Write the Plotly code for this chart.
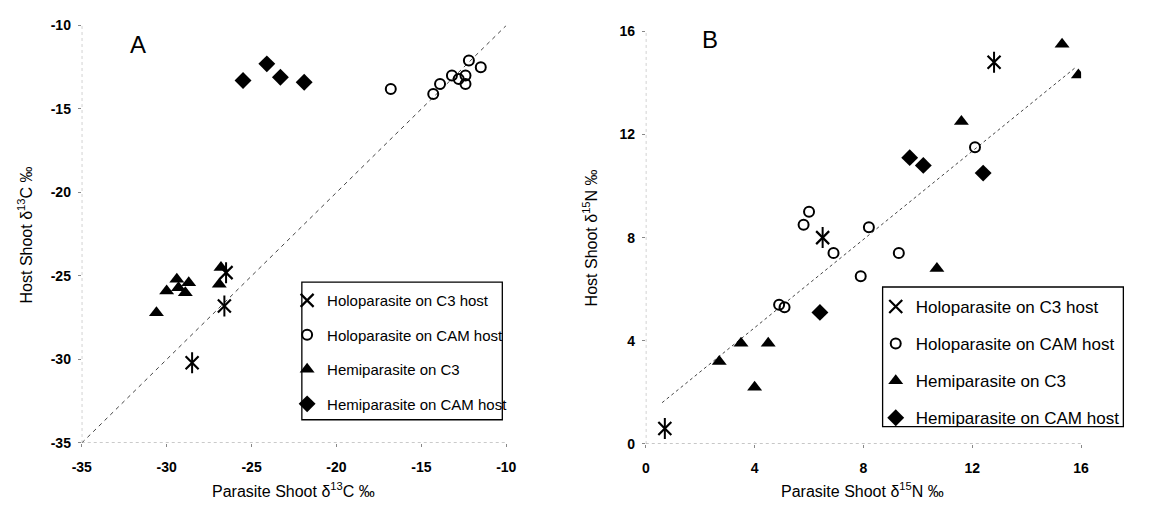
import plotly.graph_objects as go

W, H = 1154, 513

# ---------------- Panel A data (delta 13C) ----------------
a_holo_c3_x = [-26.5, -26.6, -28.5]
a_holo_c3_y = [-24.8, -26.8, -30.2]
a_holo_cam_x = [-16.8, -14.3, -13.9, -13.2, -12.8, -12.4, -12.4, -12.2, -11.5]
a_holo_cam_y = [-13.8, -14.1, -13.5, -13.0, -13.2, -13.0, -13.5, -12.1, -12.5]
a_hemi_c3_x = [-30.6, -30.0, -29.4, -29.3, -28.9, -28.7, -26.8, -26.9]
a_hemi_c3_y = [-27.2, -25.9, -25.2, -25.7, -26.0, -25.4, -24.5, -25.5]
a_hemi_cam_x = [-25.5, -24.1, -23.3, -21.9]
a_hemi_cam_y = [-13.3, -12.3, -13.1, -13.4]
a_line_x = [-35, -10]
a_line_y = [-35, -10]
a_ticks = [-35, -30, -25, -20, -15, -10]

# ---------------- Panel B data (delta 15N) ----------------
b_holo_c3_x = [0.7, 6.5, 12.8]
b_holo_c3_y = [0.6, 8.0, 14.8]
b_holo_cam_x = [5.8, 6.0, 6.9, 4.9, 5.1, 7.9, 8.2, 9.3, 12.1]
b_holo_cam_y = [8.5, 9.0, 7.4, 5.4, 5.3, 6.5, 8.4, 7.4, 11.5]
b_hemi_c3_x = [2.7, 3.5, 4.0, 4.5, 10.7, 11.6, 15.3, 15.9]
b_hemi_c3_y = [3.2, 3.9, 2.2, 3.9, 6.8, 12.5, 15.5, 14.3]
b_hemi_cam_x = [6.4, 9.7, 10.2, 12.4]
b_hemi_cam_y = [5.1, 11.1, 10.8, 10.5]
b_line_x = [0.6, 15.8]
b_line_y = [1.6, 14.6]
b_ticks = [0, 4, 8, 12, 16]

labels = ["Holoparasite on C3 host", "Holoparasite on CAM host",
          "Hemiparasite on C3", "Hemiparasite on CAM host"]

FONT = "Liberation Sans, Arial, sans-serif"

def px(x):
    return x / W

def py(y):
    return 1 - y / H

fig = go.Figure()

def add_panel(xa, ya, leg, line_x, line_y, line_dash, data):
    (hx, hy), (cx, cy), (tx, ty), (dx, dy) = data
    fig.add_trace(go.Scatter(x=line_x, y=line_y, mode="lines",
                             line=dict(color="#444444", width=1, dash=line_dash),
                             showlegend=False, xaxis=xa, yaxis=ya, hoverinfo="skip"))
    # asterisk = X + vertical bar
    fig.add_trace(go.Scatter(x=hx, y=hy, mode="markers", name=labels[0],
                             marker=dict(symbol="x-thin-open", size=13, color="black",
                                         line=dict(width=2.2, color="black")),
                             legend=leg, legendgroup=leg + "0", xaxis=xa, yaxis=ya))
    fig.add_trace(go.Scatter(x=hx, y=hy, mode="markers", showlegend=False,
                             marker=dict(symbol="line-ns-open", size=15, color="black",
                                         line=dict(width=2, color="black")),
                             legendgroup=leg + "0", xaxis=xa, yaxis=ya))
    fig.add_trace(go.Scatter(x=cx, y=cy, mode="markers", name=labels[1],
                             marker=dict(symbol="circle-open", size=10, color="black",
                                         line=dict(width=2, color="black")),
                             legend=leg, legendgroup=leg + "1", xaxis=xa, yaxis=ya))
    fig.add_trace(go.Scatter(x=tx, y=ty, mode="markers", name=labels[2],
                             marker=dict(symbol="triangle-up", size=13, color="black"),
                             legend=leg, legendgroup=leg + "2", xaxis=xa, yaxis=ya))
    fig.add_trace(go.Scatter(x=dx, y=dy, mode="markers", name=labels[3],
                             marker=dict(symbol="diamond", size=13, color="black"),
                             legend=leg, legendgroup=leg + "3", xaxis=xa, yaxis=ya))

add_panel("x", "y", "legend", a_line_x, a_line_y, "4px,4px",
          [(a_holo_c3_x, a_holo_c3_y), (a_holo_cam_x, a_holo_cam_y),
           (a_hemi_c3_x, a_hemi_c3_y), (a_hemi_cam_x, a_hemi_cam_y)])
add_panel("x2", "y2", "legend2", b_line_x, b_line_y, "dot",
          [(b_holo_c3_x, b_holo_c3_y), (b_holo_cam_x, b_holo_cam_y),
           (b_hemi_c3_x, b_hemi_c3_y), (b_hemi_cam_x, b_hemi_cam_y)])

axis_common = dict(showgrid=False, zeroline=False, showline=False,
                   ticks="outside", ticklen=3, tickcolor="#888888",
                   tickfont=dict(family=FONT, size=14, color="black", weight="bold"))

fig.update_layout(
    width=W, height=H,
    margin=dict(l=0, r=0, t=0, b=0),
    paper_bgcolor="white", plot_bgcolor="white",
    showlegend=True,
    xaxis=dict(domain=[px(73), px(505)], range=[-35, -10], tickvals=a_ticks,
               ticktext=["-35", "-30", "-25", "-20", "-15", "-10"], anchor="y",
               ticklabelstandoff=8, **axis_common),
    yaxis=dict(domain=[py(449), py(18)], range=[-35, -10], tickvals=a_ticks,
               ticktext=["-35", "-30", "-25", "-20", "-15", "-10"], anchor="x",
               ticklabelstandoff=4, **axis_common),
    xaxis2=dict(domain=[px(647), px(1090)], range=[0, 16], tickvals=b_ticks, anchor="y2",
                ticklabelstandoff=8, **axis_common),
    yaxis2=dict(domain=[py(450), py(24)], range=[0, 16], tickvals=b_ticks, anchor="x2",
                ticklabelstandoff=4, **axis_common),
    legend=dict(x=px(282), y=py(285), xanchor="left", yanchor="top",
                borderwidth=0, bgcolor="rgba(0,0,0,0)",
                font=dict(family=FONT, size=15, color="black"),
                traceorder="grouped", tracegroupgap=12, itemwidth=30),
    legend2=dict(x=px(881), y=py(290), xanchor="left", yanchor="top",
                 borderwidth=0, bgcolor="rgba(0,0,0,0)",
                 font=dict(family=FONT, size=17, color="black"),
                 traceorder="grouped", tracegroupgap=12, itemwidth=30),
)

# dotted axis lines
for xr, yr, xa, ya in [((-35, -10), (-35, -10), "x", "y"), ((0, 16), (0, 16), "x2", "y2")]:
    fig.add_shape(type="line", x0=xr[0], x1=xr[1], y0=yr[0], y1=yr[0], xref=xa, yref=ya,
                  line=dict(color="#999999", width=1, dash="dot"))
    fig.add_shape(type="line", x0=xr[0], x1=xr[0], y0=yr[0], y1=yr[1], xref=xa, yref=ya,
                  line=dict(color="#999999", width=1, dash="dot"))

# legend frames
for x0, y0, x1, y1 in [(297, 283, 501, 425), (888, 288, 1133, 432)]:
    fig.add_shape(type="rect", xref="paper", yref="paper",
                  x0=px(x0), x1=px(x1), y0=py(y1), y1=py(y0),
                  line=dict(color="black", width=1.3), fillcolor="white", layer="below")

ann = [
    dict(text="A", x=px(130), y=py(38), font=dict(size=24)),
    dict(text="B", x=px(712), y=py(33), font=dict(size=24)),
    dict(text="Parasite Shoot δ<sup>13</sup>C ‰", x=px(289), y=py(498), font=dict(size=16)),
    dict(text="Parasite Shoot δ<sup>15</sup>N ‰", x=px(868), y=py(498), font=dict(size=16)),
    dict(text="Host Shoot δ<sup>13</sup>C ‰", x=px(15), y=py(234), font=dict(size=16), textangle=-90),
    dict(text="Host Shoot δ<sup>15</sup>N ‰", x=px(590), y=py(237), font=dict(size=16), textangle=-90),
]
for a in ann:
    a["font"].update(family=FONT, color="black")
    fig.add_annotation(xref="paper", yref="paper", showarrow=False,
                       xanchor="center", yanchor="middle", **a)

fig.write_html("out.html")
